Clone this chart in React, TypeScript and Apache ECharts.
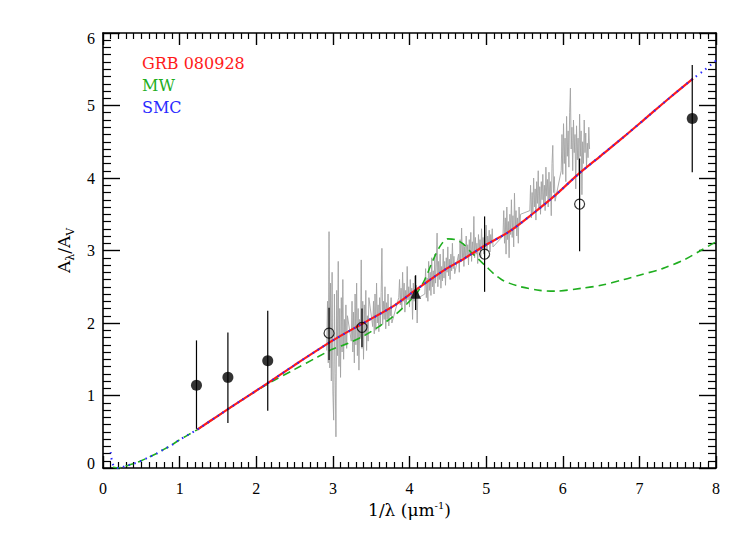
import React, { useEffect, useRef } from "react";
import * as echarts from "echarts";

// ---- data ----
const xTicks = [0, 1, 2, 3, 4, 5, 6, 7, 8];
const yTicks = [0, 1, 2, 3, 4, 5, 6];

// SMC extinction curve (blue dotted)
const smcX = [0.10, 0.12, 0.15, 0.2, 0.3, 0.4, 0.5, 0.6, 0.7, 0.8, 0.9, 1.0, 1.1, 1.23, 1.5, 1.8, 2.15, 2.5, 3.0, 3.4, 3.8, 4.1, 4.3, 4.5, 4.7, 5.0, 5.3, 5.6, 5.9, 6.2, 6.5, 6.8, 7.1, 7.4, 7.7, 7.85, 8.0];
const smcY = [0.22, 0.08, 0.02, 0.0, 0.03, 0.06, 0.1, 0.15, 0.2, 0.26, 0.32, 0.39, 0.45, 0.53, 0.72, 0.93, 1.17, 1.42, 1.76, 2.0, 2.24, 2.47, 2.62, 2.76, 2.88, 3.08, 3.26, 3.5, 3.76, 4.05, 4.31, 4.57, 4.84, 5.11, 5.37, 5.49, 5.62];

// GRB 080928 best fit (red solid)
const grbX = [1.23, 1.5, 1.8, 2.15, 2.5, 3.0, 3.4, 3.8, 4.1, 4.3, 4.5, 4.7, 5.0, 5.3, 5.6, 5.9, 6.2, 6.5, 6.8, 7.1, 7.4, 7.7];
const grbY = [0.53, 0.72, 0.93, 1.17, 1.42, 1.76, 2.0, 2.24, 2.47, 2.62, 2.76, 2.88, 3.08, 3.26, 3.5, 3.76, 4.05, 4.31, 4.57, 4.84, 5.11, 5.37];

// MW extinction curve (green dashed)
const mwX = [0.13, 0.2, 0.3, 0.4, 0.5, 0.6, 0.7, 0.8, 0.9, 1.0, 1.1, 1.23, 1.5, 1.8, 2.15, 2.5, 2.8, 3.0, 3.2, 3.4, 3.6, 3.8, 4.0, 4.1, 4.2, 4.3, 4.4, 4.5, 4.6, 4.7, 4.8, 4.9, 5.0, 5.1, 5.2, 5.3, 5.45, 5.7, 5.9, 6.25, 6.5, 6.8, 7.0, 7.3, 7.6, 7.8, 8.0];
const mwY = [0.01, 0.0, 0.03, 0.06, 0.1, 0.15, 0.2, 0.26, 0.32, 0.39, 0.45, 0.53, 0.72, 0.93, 1.16, 1.36, 1.53, 1.64, 1.72, 1.82, 1.95, 2.1, 2.3, 2.42, 2.6, 2.85, 3.06, 3.16, 3.15, 3.09, 2.98, 2.88, 2.78, 2.68, 2.6, 2.55, 2.5, 2.45, 2.44, 2.48, 2.52, 2.6, 2.66, 2.75, 2.88, 3.0, 3.12];

// observed spectrum (grey), [1/lambda, A_lambda/A_V]
const spectrum: [number, number][] = [
  [2.92, 1.62], [2.93, 2.30], [2.94, 1.45], [2.95, 3.26], [2.96, 1.38], [2.97, 2.55], [2.98, 1.20], [2.99, 2.70],
  [3.00, 1.05], [3.01, 0.66], [3.02, 2.40], [3.03, 1.30], [3.04, 0.43], [3.05, 2.45], [3.06, 1.55], [3.07, 2.85],
  [3.08, 1.40], [3.09, 2.20], [3.10, 1.25], [3.11, 2.35], [3.12, 1.60], [3.13, 2.60], [3.14, 1.50], [3.15, 2.05],
  [3.16, 1.70], [3.17, 2.25], [3.18, 1.65], [3.19, 2.10],
  [3.24, 1.75], [3.25, 2.30], [3.26, 1.60], [3.27, 2.15], [3.28, 1.45], [3.29, 2.40], [3.30, 1.70], [3.31, 2.55],
  [3.32, 1.55], [3.33, 2.20], [3.34, 1.35], [3.35, 2.05], [3.36, 1.80], [3.37, 2.87], [3.38, 1.65], [3.39, 2.30],
  [3.40, 1.50], [3.41, 2.25], [3.42, 1.85], [3.43, 2.45], [3.44, 1.62], [3.45, 2.10], [3.46, 1.75], [3.47, 2.35],
  [3.52, 1.95], [3.53, 2.30], [3.54, 1.85], [3.55, 2.40], [3.56, 1.90], [3.57, 2.55], [3.58, 2.00], [3.59, 2.25],
  [3.60, 1.88], [3.61, 2.35], [3.62, 1.95], [3.63, 2.42], [3.64, 3.03], [3.65, 1.98], [3.66, 2.30], [3.67, 2.05],
  [3.68, 2.50], [3.69, 1.92], [3.70, 2.28], [3.71, 2.05], [3.72, 2.40], [3.73, 1.96], [3.74, 2.22], [3.75, 2.10],
  [3.76, 2.35], [3.77, 2.00],
  [3.86, 2.35], [3.87, 2.60], [3.88, 2.25], [3.89, 2.48], [3.90, 2.20], [3.91, 2.70], [3.92, 2.30], [3.93, 2.55],
  [3.94, 2.15], [3.95, 2.45], [3.96, 2.28], [3.97, 2.78], [3.98, 2.32], [3.99, 2.50], [4.00, 2.22], [4.01, 2.60],
  [4.02, 2.35], [4.03, 2.48], [4.04, 2.05], [4.05, 2.55], [4.06, 2.30], [4.07, 2.65], [4.08, 2.40], [4.09, 2.52],
  [4.10, 2.00], [4.11, 2.45], [4.12, 2.35],
  [4.20, 2.40], [4.21, 2.75], [4.22, 2.35], [4.23, 2.62], [4.24, 2.30], [4.25, 2.85], [4.26, 2.45], [4.27, 2.70],
  [4.28, 2.38], [4.29, 2.90], [4.30, 2.50], [4.31, 2.72], [4.32, 2.40], [4.33, 2.95], [4.34, 2.55], [4.35, 2.80],
  [4.36, 3.24], [4.37, 2.50], [4.38, 2.85], [4.39, 2.60], [4.40, 2.95], [4.41, 2.48], [4.42, 2.78], [4.43, 2.58],
  [4.44, 3.02], [4.45, 2.62], [4.46, 2.85], [4.47, 2.52], [4.48, 2.90], [4.49, 2.70], [4.50, 3.05], [4.51, 2.65],
  [4.52, 2.88], [4.53, 2.60], [4.54, 2.95], [4.55, 2.72], [4.56, 3.10], [4.57, 2.75], [4.58, 2.92], [4.59, 2.68],
  [4.64, 2.95], [4.65, 2.70], [4.66, 3.15], [4.67, 2.85], [4.68, 3.31], [4.69, 2.90], [4.70, 3.10], [4.71, 2.78],
  [4.72, 3.05], [4.73, 2.88], [4.74, 3.20], [4.75, 2.92], [4.76, 3.08], [4.77, 2.80], [4.78, 3.15], [4.79, 2.95],
  [4.80, 3.25], [4.81, 2.85], [4.82, 3.12], [4.83, 2.98], [4.84, 3.47], [4.85, 2.90], [4.86, 3.18], [4.87, 2.95],
  [4.88, 3.10], [4.89, 2.82], [4.90, 3.22], [4.91, 3.00], [4.92, 3.15], [4.93, 2.92], [4.94, 3.30], [4.95, 3.02],
  [4.96, 3.18], [4.97, 2.95], [4.98, 3.25], [4.99, 3.05], [5.00, 3.35], [5.01, 3.00], [5.02, 3.20], [5.03, 3.08],
  [5.04, 3.28], [5.05, 2.98], [5.06, 3.22], [5.07, 3.10], [5.08, 3.30], [5.09, 3.05],
  [5.22, 3.20], [5.23, 3.55], [5.24, 3.10], [5.25, 3.45], [5.26, 2.95], [5.27, 3.60], [5.28, 3.15], [5.29, 3.40],
  [5.30, 2.90], [5.31, 3.50], [5.32, 3.22], [5.33, 3.70], [5.34, 3.18], [5.35, 3.48], [5.36, 3.05], [5.37, 3.79],
  [5.38, 3.30], [5.39, 3.55], [5.40, 3.20], [5.41, 3.45], [5.42, 3.10], [5.43, 3.60], [5.44, 3.35], [5.45, 3.50],
  [5.57, 3.55], [5.58, 3.90], [5.59, 3.45], [5.60, 3.80], [5.61, 3.52], [5.62, 4.00], [5.63, 3.60], [5.64, 3.85],
  [5.65, 3.42], [5.66, 3.95], [5.67, 3.65], [5.68, 4.10], [5.69, 3.58], [5.70, 3.88], [5.71, 3.50], [5.72, 3.95],
  [5.73, 3.70], [5.74, 4.05], [5.75, 3.62], [5.76, 3.90], [5.77, 3.55], [5.78, 4.15], [5.79, 3.75], [5.80, 3.98],
  [5.81, 3.60], [5.82, 4.08], [5.83, 3.72], [5.84, 3.95], [5.85, 3.48], [5.86, 4.20], [5.87, 4.45], [5.88, 3.80],
  [5.89, 4.02], [5.90, 3.68],
  [5.98, 4.10], [5.99, 4.60], [6.00, 4.05], [6.01, 4.75], [6.02, 4.20], [6.03, 4.55], [6.04, 3.95], [6.05, 4.85],
  [6.06, 4.30], [6.07, 4.65], [6.08, 4.15], [6.09, 4.90], [6.10, 5.24], [6.11, 4.40], [6.12, 4.70], [6.13, 4.10],
  [6.14, 4.80], [6.15, 4.35], [6.16, 4.60], [6.17, 3.85], [6.18, 4.72], [6.19, 4.25], [6.20, 4.55], [6.21, 4.05],
  [6.22, 4.88], [6.23, 4.30], [6.24, 4.65], [6.25, 3.77], [6.26, 4.50], [6.27, 4.20], [6.28, 4.80], [6.29, 4.35],
  [6.30, 4.62], [6.31, 4.15], [6.32, 4.48], [6.33, 4.28], [6.34, 4.70], [6.35, 4.40],
];

// photometric points
const filledX = [1.22, 1.63, 2.15, 7.69];
const filledY = [1.14, 1.25, 1.48, 4.82];
const filledLo = [0.54, 0.62, 0.79, 4.08];
const filledHi = [1.76, 1.87, 2.17, 5.56];

const openX = [2.95, 3.38, 4.98, 6.22];
const openY = [1.86, 1.94, 2.95, 3.64];
const openLo = [1.49, 1.67, 2.43, 2.99];
const openHi = [2.21, 2.20, 3.47, 4.27];

const triX = [4.08];
const triY = [2.41];
const triLo = [2.18];
const triHi = [2.66];

const legendNames = ["GRB 080928", "MW", "SMC"];

// ---- styles ----
const RED = "#ff1a1a";
const GREEN = "#1fae1f";
const BLUE = "#2a2aff";
const SERIF = '"DejaVu Serif", serif';
const TICKFONT = '"Liberation Serif", serif';

const pairs = (xs: number[], ys: number[]) => xs.map((x, i) => [x, ys[i]]);

export default function App() {
  const ref = useRef<HTMLDivElement>(null);

  useEffect(() => {
    document.body.style.margin = "0";
    if (!ref.current) return;
    const chart = echarts.init(ref.current, undefined, { renderer: "svg" });

    const errData = [
      ...filledX.map((x, i) => [x, filledLo[i], filledHi[i]]),
      ...openX.map((x, i) => [x, openLo[i], openHi[i]]),
      ...triX.map((x, i) => [x, triLo[i], triHi[i]]),
    ];

    const axisLineStyle = { color: "#000", width: 1.6 };
    const xAxisBase = {
      type: "value" as const,
      min: xTicks[0],
      max: xTicks[xTicks.length - 1],
      interval: 1,
      splitLine: { show: false },
      axisLine: { show: true, onZero: false, lineStyle: axisLineStyle },
      axisTick: { show: true, inside: true, length: 12, lineStyle: { color: "#000", width: 1.4 } },
      minorTick: { show: true, splitNumber: 10, length: 6, lineStyle: { color: "#000", width: 1.2 } },
      minorSplitLine: { show: false },
    };
    const yAxisBase = {
      type: "value" as const,
      min: yTicks[0],
      max: yTicks[yTicks.length - 1],
      interval: 1,
      splitLine: { show: false },
      axisLine: { show: true, onZero: false, lineStyle: axisLineStyle },
      axisTick: { show: true, inside: true, length: 17, lineStyle: { color: "#000", width: 1.4 } },
      minorTick: { show: true, splitNumber: 10, length: 8, lineStyle: { color: "#000", width: 1.2 } },
      minorSplitLine: { show: false },
    };

    chart.setOption({
      animation: false,
      backgroundColor: "#fff",
      grid: { left: 103, top: 33, width: 613, height: 435 },
      xAxis: [
        {
          ...xAxisBase,
          position: "bottom",
          axisLabel: { show: true, margin: 12, color: "#000", fontSize: 16, fontFamily: TICKFONT },
          name: "1/λ (μm{sup|-1})",
          nameLocation: "middle",
          nameGap: 31,
          nameTextStyle: {
            color: "#000",
            fontSize: 17,
            fontFamily: SERIF,
            rich: {
              sup: { fontSize: 10, fontFamily: SERIF, color: "#000", verticalAlign: "top", padding: [0, 0, 8, 0] },
            },
          },
        },
        { ...xAxisBase, position: "top", axisLabel: { show: false } },
      ],
      yAxis: [
        {
          ...yAxisBase,
          position: "left",
          axisLabel: {
            show: true,
            margin: 8,
            color: "#000",
            fontSize: 16,
            fontFamily: TICKFONT,
            formatter: (v: number) =>
              v === yTicks[0] ? `{lo|${v}}` : v === yTicks[yTicks.length - 1] ? `{hi|${v}}` : String(v),
            rich: {
              lo: { fontSize: 16, fontFamily: TICKFONT, color: "#000", padding: [0, 0, 10, 0] },
              hi: { fontSize: 16, fontFamily: TICKFONT, color: "#000", padding: [11, 0, 0, 0] },
            },
          },
          name: "{a|A}{s|λ}{a|/A}{s|V}",
          nameLocation: "middle",
          nameRotate: 90,
          nameGap: 27,
          nameTextStyle: {
            color: "#000",
            rich: {
              a: { fontSize: 17, fontFamily: SERIF, color: "#000", verticalAlign: "top", lineHeight: 20 },
              s: { fontSize: 11, fontFamily: SERIF, color: "#000", verticalAlign: "top", padding: [10, 0, 0, 0] },
            },
          },
        },
        { ...yAxisBase, position: "right", axisLabel: { show: false } },
      ],
      graphic: legendNames.map((n, i) => ({
        type: "text",
        left: 142,
        top: 55 + i * 22,
        style: {
          text: n,
          fill: [RED, GREEN, BLUE][i],
          font: `16px ${SERIF}`,
        },
      })),
      series: [
        {
          name: "spectrum",
          type: "line",
          data: spectrum,
          showSymbol: false,
          lineStyle: { color: "#a3a3a3", width: 0.9 },
          z: 1,
          silent: true,
        },
        {
          name: "MW",
          type: "line",
          data: pairs(mwX, mwY),
          showSymbol: false,
          smooth: 0.3,
          lineStyle: { color: GREEN, width: 1.6, type: [8, 5] },
          z: 2,
          silent: true,
        },
        {
          name: "GRB 080928",
          type: "line",
          data: pairs(grbX, grbY),
          showSymbol: false,
          smooth: 0.3,
          lineStyle: { color: RED, width: 2.2 },
          z: 3,
          silent: true,
        },
        {
          name: "SMC",
          type: "line",
          data: pairs(smcX, smcY),
          showSymbol: false,
          smooth: 0.3,
          lineStyle: { color: BLUE, width: 2, type: [1.5, 4.5] },
          z: 4,
          silent: true,
        },
        {
          name: "errors",
          type: "custom",
          data: errData,
          encode: { x: 0, y: [1, 2] },
          z: 5,
          silent: true,
          renderItem: (_params: any, api: any) => {
            const x = api.value(0);
            const p1 = api.coord([x, api.value(1)]);
            const p2 = api.coord([x, api.value(2)]);
            return {
              type: "line",
              shape: { x1: p1[0], y1: p1[1], x2: p2[0], y2: p2[1] },
              style: { stroke: "#000", lineWidth: 1.2 },
            };
          },
        },
        {
          name: "filled",
          type: "scatter",
          data: pairs(filledX, filledY),
          symbol: "circle",
          symbolSize: 11,
          itemStyle: { color: "#000" },
          z: 6,
          silent: true,
        },
        {
          name: "open",
          type: "scatter",
          data: pairs(openX, openY),
          symbol: "circle",
          symbolSize: 10,
          itemStyle: { color: "rgba(0,0,0,0)", borderColor: "#000", borderWidth: 1.2 },
          z: 6,
          silent: true,
        },
        {
          name: "triangle",
          type: "scatter",
          data: pairs(triX, triY),
          symbol: "triangle",
          symbolSize: 11,
          itemStyle: { color: "#000" },
          z: 6,
          silent: true,
        },
      ],
    });

    return () => chart.dispose();
  }, []);

  return <div ref={ref} style={{ width: 747, height: 534 }} />;
}
